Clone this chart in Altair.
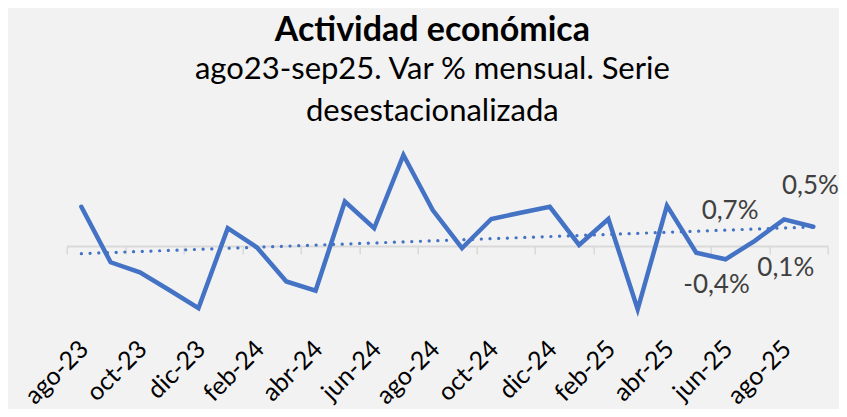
import json
import altair as alt
import pandas as pd

# ---- data ----
meses = ["ago-23", "sep-23", "oct-23", "nov-23", "dic-23", "ene-24", "feb-24", "mar-24",
         "abr-24", "may-24", "jun-24", "jul-24", "ago-24", "sep-24", "oct-24", "nov-24",
         "dic-24", "ene-25", "feb-25", "mar-25", "abr-25", "may-25", "jun-25", "jul-25",
         "ago-25", "sep-25"]
variacion = [1.06, -0.44, -0.71, -1.19, -1.68, 0.48, -0.04, -0.96, -1.21, 1.20, 0.48, 2.46,
             0.97, -0.06, 0.73, 0.90, 1.06, 0.03, 0.73, -1.71, 1.09, -0.18, -0.36, 0.14,
             0.72, 0.52]
etiquetados = ["jun-25", "jul-25", "ago-25", "sep-25"]

titulo = "Actividad económica"
subtitulo = ["ago23-sep25. Var % mensual. Serie", "desestacionalizada"]

# ---- layout / style ----
W, H = 761.3, 199.8
YMIN, YMAX = -2.4, 3.0
BLUE = "#4472C4"
FONT = "Lato"
zero_from_bottom = H * (0 - YMIN) / (YMAX - YMIN)
cat_w = W / len(meses)

# label placement (dx, dy) per labelled month
label_pos = {"jun-25": (-9, 26), "jul-25": (31, 27), "ago-25": (-54, -8), "sep-25": (-3, -41)}

df = pd.DataFrame({"idx": list(range(len(meses))), "mes": meses, "var": variacion})

label_expr = f"datum.value < {len(meses) - 1} ? {json.dumps(meses)}[round(datum.value + 0.5)] : ''"

x_enc = alt.X(
    "idx:Q",
    scale=alt.Scale(domain=[-0.5, len(meses) - 0.5], nice=False, zero=False),
    axis=alt.Axis(
        values=[-0.5 + 2 * i for i in range(len(meses) // 2 + 1)],
        labelExpr=label_expr,
        title=None,
        grid=False,
        offset=-zero_from_bottom,
        domainColor="#D9D9D9",
        domainWidth=2,
        tickColor="#D9D9D9",
        tickWidth=1.5,
        tickSize=8,
        labelAngle=-45,
        labelAlign="right",
        labelBaseline="top",
        labelPadding=82,
        labelOffset=cat_w / 2 - 6,
        labelFont=FONT,
        labelFontSize=25,
        labelColor="#000000",
        labelOverlap=False,
        labelBound=False,
        labelFlush=False,
    ),
)
y_enc = alt.Y("var:Q", scale=alt.Scale(domain=[YMIN, YMAX], nice=False, zero=False), axis=None)

base = alt.Chart(df)

line = base.mark_line(color=BLUE, strokeWidth=4.5, strokeCap="round").encode(x=x_enc, y=y_enc)

trend = (
    base.transform_regression("idx", "var")
    .mark_line(color=BLUE, strokeWidth=3.2, strokeDash=[0.1, 8.6], strokeCap="round")
    .encode(x=alt.X("idx:Q"), y=alt.Y("var:Q"))
)

labels = []
for mes in etiquetados:
    dx, dy = label_pos[mes]
    labels.append(
        base.transform_filter(alt.datum.mes == mes)
        .transform_calculate(
            txt="replace(replace(format(datum.var, '.1f'), '.', ','), '\u2212', '-') + '%'"
        )
        .mark_text(font=FONT, fontSize=26, color="#404040", align="center",
                   baseline="middle", dx=dx, dy=dy)
        .encode(x=alt.X("idx:Q"), y=alt.Y("var:Q"), text="txt:N")
    )

chart = (
    alt.layer(line, trend, *labels)
    .properties(
        width=W,
        height=H,
        autosize=alt.AutoSizeParams(type="none"),
        padding={"left": 58.7, "top": 127, "right": 11, "bottom": 74},
        background="#F2F2F2",
        title=alt.TitleParams(
            text=titulo,
            subtitle=subtitulo,
            font=FONT,
            fontSize=34,
            fontWeight="bold",
            color="#000000",
            subtitleFont=FONT,
            subtitleFontSize=31,
            subtitleColor="#000000",
            subtitleLineHeight=42,
            subtitlePadding=7,
            anchor="middle",
            dx=-15,
            offset=8,
        ),
    )
    .configure_view(stroke=None)
)

chart.save("out.html", embed_options={"renderer": "svg", "actions": False})
